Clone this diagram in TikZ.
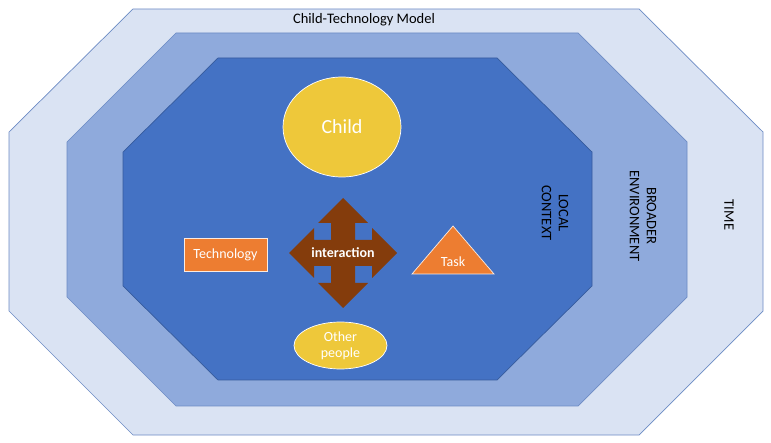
\documentclass[tikz,border=0pt]{standalone}
\usepackage{fontspec}
\setmainfont{Carlito}
\usetikzlibrary{shapes.geometric}
\definecolor{outerC}{HTML}{DAE3F3}
\definecolor{midC}{HTML}{8FAADC}
\definecolor{innerC}{HTML}{4472C4}
\definecolor{edgeC}{HTML}{6C8BC4}
\definecolor{yellowC}{HTML}{EEC83A}
\definecolor{orangeC}{HTML}{ED7D31}
\definecolor{brownC}{HTML}{843C0C}
\tikzset{
  layer/.style={draw=edgeC, line width=0.7pt, line join=miter},
  yel/.style={ellipse, fill=yellowC, draw=white, line width=0.7pt, text=white, inner sep=0pt},
  org/.style={fill=orangeC, draw=white!85!orangeC, line width=0.7pt, text=white},
  ctx/.style={rotate=-90, align=center, font=\fontsize{14.5}{17}\selectfont, text=black},
}
\begin{document}
\begin{tikzpicture}[x=1pt,y=-1pt]
\useasboundingbox (0,0) rectangle (771,443);
% outer octagon
\draw[layer, fill=outerC] (133,9) -- (639,9) -- (763,132) -- (763,311) -- (639,435) -- (133,435) -- (9,311) -- (9,132) -- cycle;
% middle octagon
\draw[layer, fill=midC] (176,33) -- (578,33) -- (687,142) -- (687,297) -- (578,406) -- (176,406) -- (67,297) -- (67,142) -- cycle;
% inner octagon
\draw[layer, fill=innerC, draw=innerC!80!black] (218,58) -- (497,58) -- (592,152) -- (592,286) -- (497,380) -- (218,380) -- (123,286) -- (123,152) -- cycle;

\node[font=\fontsize{14.5}{17}\selectfont] (title) at (364,20) {Child-Technology Model};

\node[yel, minimum width=118pt, minimum height=100pt, font=\fontsize{20}{24}\selectfont] (child) at (342,127) {Child};
\node[yel, minimum width=93pt, minimum height=47pt, align=center, font=\fontsize{14}{16}\selectfont] (other) at (340.5,345.5) {Other\\people};
\node[org, rectangle, minimum width=83pt, minimum height=33pt, inner sep=0pt, font=\fontsize{14}{16}\selectfont] (tech) at (225.5,254.5) {Technology};

% task triangle
\coordinate (tA) at (453,226);
\coordinate (tB) at (494,274);
\coordinate (tC) at (412,274);
\draw[org, line join=miter] (tA) -- (tB) -- (tC) -- cycle;
\node[text=white, font=\fontsize{14}{16}\selectfont] (task) at (453,262) {Task};

% interaction four-way arrow
\coordinate (ic) at (343,253);
\fill[brownC, shift={(ic)}] (-54,0) -- (-29,-25) -- (-29,-13) -- (-12,-13) -- (-12,-30) -- (-25,-30) -- (0,-55) -- (25,-30) -- (12,-30) -- (12,-13) -- (29,-13) -- (29,-25) -- (54,0) -- (29,25) -- (29,13) -- (12,13) -- (12,30) -- (25,30) -- (0,55) -- (-25,30) -- (-12,30) -- (-12,13) -- (-29,13) -- (-29,25) -- cycle;
\node[text=white, font=\bfseries\fontsize{14}{16}\selectfont] (inter) at (ic) {interaction};

\node[ctx] (local) at (555,213) {LOCAL\\CONTEXT};
\node[ctx] (broad) at (643,216) {BROADER\\ENVIRONMENT};
\node[ctx] (time) at (729,215) {TIME};
\end{tikzpicture}
\end{document}
